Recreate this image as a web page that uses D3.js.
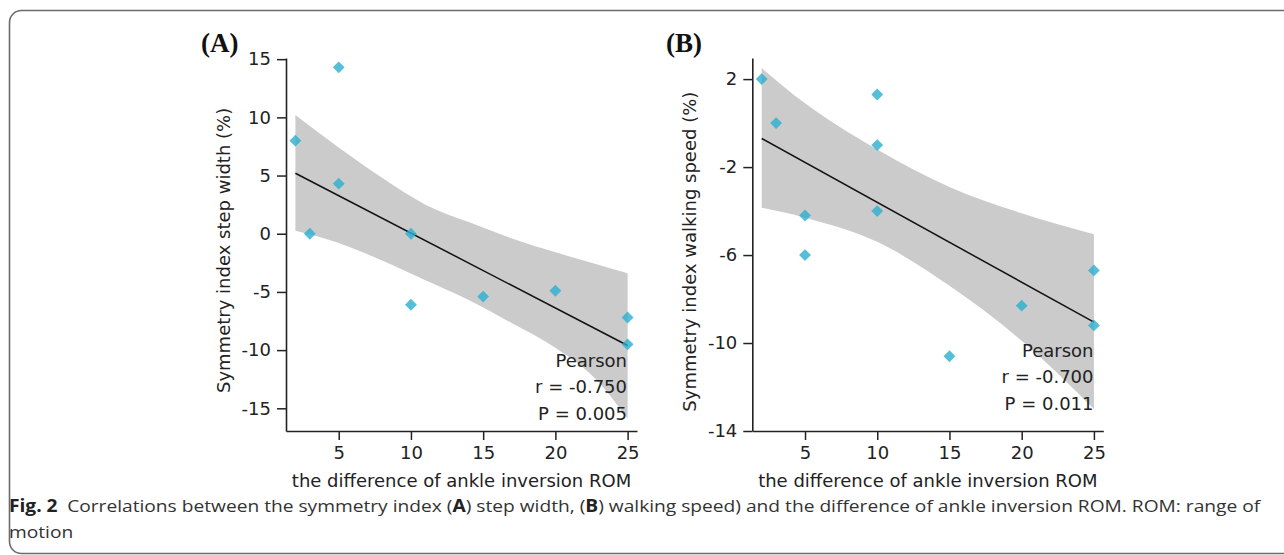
<!DOCTYPE html>
<html><head><meta charset="utf-8">
<script src="https://cdn.jsdelivr.net/npm/d3@7"></script>
<style>html,body{margin:0;padding:0;background:#fff;}svg{display:block;}</style>
</head><body>
<svg id="chart" width="1284" height="555"></svg>
<script>
// ---- data ----
const xTicks = [5, 10, 15, 20, 25];
const aYTicks = [15, 10, 5, 0, -5, -10, -15];
const bYTicks = [2, -2, -6, -10, -14];

const aX = [2, 3, 5, 5, 10, 10, 15, 20, 25, 25];
const aY = [8.0, 0.0, 14.3, 4.3, 0.0, -6.1, -5.4, -4.9, -7.2, -9.5];
const bX = [2, 3, 5, 5, 10, 10, 10, 15, 20, 25, 25];
const bY = [2.0, 0.0, -4.2, -6.0, 1.3, -1.0, -4.0, -10.6, -8.3, -6.7, -9.2];

const aFitX = [2, 25];
const aFitY = [5.2, -9.6];
const bFitX = [2, 25];
const bFitY = [-0.7, -9.05];

const aBandX  = [2, 5, 8, 11, 14, 17, 20, 22.8, 25];
const aBandHi = [10.2, 7.4, 4.8, 2.5, 1.0, -0.4, -1.6, -2.6, -3.4];
const aBandLo = [0.25, -0.8, -2.3, -4.0, -5.7, -7.7, -9.8, -12.5, -15.9];
const bBandX  = [2, 5, 10, 15, 20, 25];
const bBandHi = [2.5, 0.9, -1.2, -2.9, -4.1, -5.05];
const bBandLo = [-3.85, -4.3, -5.4, -7.4, -9.9, -13.0];

const panelTags = ["(A)", "(B)"];
const yLabels = ["Symmetry index step width (%)", "Symmetry index walking speed (%)"];
const xLabel = "the difference of ankle inversion ROM";
const statLines = [["Pearson", "r = -0.750", "P = 0.005"], ["Pearson", "r = -0.700", "P = 0.011"]];
const captionBold = "Fig. 2";
const captionLine1 = "Correlations between the symmetry index (";
const captionRest = [["A", true], [") step width, (", false], ["B", true], [") walking speed) and the difference of ankle inversion ROM. ROM: range of", false]];
const captionLine2 = "motion";

// ---- drawing ----
const svg = d3.select("#chart");
const FONT = "'DejaVu Sans', sans-serif";

// border
svg.append("rect").attr("x", 9.5).attr("y", 10.5).attr("width", 1300).attr("height", 543)
  .attr("rx", 12).attr("ry", 12).attr("fill", "none").attr("stroke", "#6b6b6b").attr("stroke-width", 1.6);

const panels = [
  {xs: aX, ys: aY, fitX: aFitX, fitY: aFitY, bx: aBandX, hi: aBandHi, lo: aBandLo,
   xr: [286, 637], yd: [-16.95, 15.1], yt: aYTicks, tag: panelTags[0], tagX: 201, ylab: yLabels[0],
   ylx: 230, yly: 393, stats: statLines[0], sx: 627, sy: [366.5, 393, 420]},
  {xs: bX, ys: bY, fitX: bFitX, fitY: bFitY, bx: bBandX, hi: bBandHi, lo: bBandLo,
   xr: [752.3, 1103.3], yd: [-14, 2.96], yt: bYTicks, tag: panelTags[1], tagX: 666, ylab: yLabels[1],
   ylx: 696, yly: 411.7, stats: statLines[1], sx: 1093.5, sy: [356.5, 383, 410]}
];

panels.forEach(p => {
  const x = d3.scaleLinear().domain([1.35, 25.65]).range(p.xr);
  const y = d3.scaleLinear().domain(p.yd).range([431, 58]);
  const g = svg.append("g");

  // band
  const bandData = p.bx.map((v, i) => ({x: v, hi: p.hi[i], lo: p.lo[i]}));
  g.append("path").datum(bandData)
    .attr("d", d3.area().x(d => x(d.x)).y0(d => y(d.lo)).y1(d => y(d.hi)).curve(d3.curveMonotoneX))
    .attr("fill", "#cbcbcb");

  // fit line
  const fitData = p.fitX.map((v, i) => [v, p.fitY[i]]);
  g.append("path").datum(fitData)
    .attr("d", d3.line().x(d => x(d[0])).y(d => y(d[1])))
    .attr("stroke", "#111").attr("stroke-width", 1.5).attr("fill", "none");

  // points
  const sym = d3.symbol().type(d3.symbolSquare).size(70);
  g.selectAll("path.pt").data(p.xs.map((v, i) => [v, p.ys[i]])).join("path")
    .attr("class", "pt")
    .attr("d", sym)
    .attr("transform", d => `translate(${x(d[0])},${y(d[1])}) rotate(45)`)
    .attr("fill", "#2aaed0").attr("fill-opacity", 0.8);

  // axes
  const ya = d3.axisLeft(y).tickValues(p.yt).tickSize(9).tickSizeOuter(0).tickPadding(6).tickFormat(d => String(d));
  const xa = d3.axisBottom(x).tickValues(xTicks).tickSize(9).tickSizeOuter(0).tickPadding(6).tickFormat(d => String(d));
  const yg = g.append("g").attr("transform", `translate(${p.xr[0]},0)`).call(ya);
  const xg = g.append("g").attr("transform", `translate(0,431)`).call(xa);
  [yg, xg].forEach(ax => {
    ax.select(".domain").attr("stroke", "#222").attr("stroke-width", 1.6);
    ax.selectAll(".tick line").attr("stroke", "#222").attr("stroke-width", 1.5);
    ax.selectAll(".tick text").attr("fill", "#222").style("font-family", FONT).style("font-size", "18px");
  });

  // axis labels
  g.append("text").attr("x", (p.xr[0] + p.xr[1]) / 2).attr("y", 487)
    .attr("text-anchor", "middle").style("font-family", FONT).style("font-size", "18px").attr("fill", "#222")
    .text(xLabel);
  g.append("text").attr("transform", `translate(${p.ylx},${p.yly}) rotate(-90)`)
    .attr("text-anchor", "start").style("font-family", FONT).style("font-size", "18px").attr("fill", "#222")
    .text(p.ylab);

  // panel tag
  g.append("text").attr("x", p.tagX).attr("y", 52)
    .style("font-family", "'Liberation Serif', 'Times New Roman', serif").style("font-size", "27px")
    .style("font-weight", "bold").attr("fill", "#111").text(p.tag);

  // stats
  p.stats.forEach((s, i) => {
    g.append("text").attr("x", p.sx).attr("y", p.sy[i]).attr("text-anchor", "end")
      .style("font-family", FONT).style("font-size", "18px").attr("fill", "#222").text(s);
  });
});

// caption
const CAP = "'Open Sans', 'Noto Sans', sans-serif";
const cap1 = svg.append("text").attr("x", 9).attr("y", 512)
  .style("font-family", CAP).style("font-size", "17px").attr("fill", "#333");
cap1.append("tspan").style("font-weight", "bold").attr("fill", "#222").text(captionBold);
cap1.append("tspan").text("\u2002" + captionLine1);
captionRest.forEach(([t, b]) => {
  const ts = cap1.append("tspan").text(t);
  if (b) ts.style("font-weight", "bold").attr("fill", "#222");
});
// fit line 1 to the reference width
const targetW = 1252;
const w1 = cap1.node().getComputedTextLength();
cap1.attr("transform", `translate(9,0) scale(${targetW / w1},1) translate(-9,0)`);

const cap2 = svg.append("text").attr("x", 9).attr("y", 538)
  .style("font-family", CAP).style("font-size", "17px").attr("fill", "#333").text(captionLine2);
cap2.attr("transform", `translate(9,0) scale(${targetW / w1},1) translate(-9,0)`);
</script>
</body></html>
